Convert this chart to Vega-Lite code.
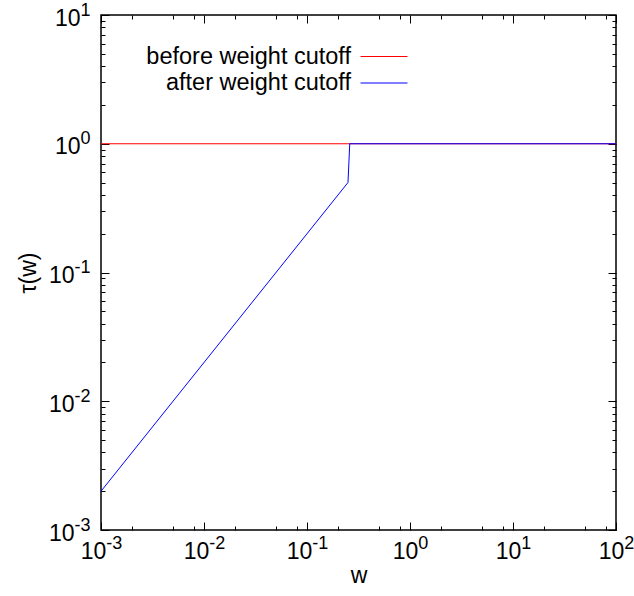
{
  "$schema": "https://vega.github.io/schema/vega-lite/v6.json",
  "width": 515,
  "height": 515,
  "autosize": {"type": "none"},
  "padding": {"left": 101, "top": 15, "right": 18, "bottom": 66},
  "background": "white",
  "config": {
    "font": "Liberation Sans",
    "view": {"stroke": "black", "strokeWidth": 1.5},
    "axis": {
      "labelFont": "Liberation Sans",
      "titleFont": "Liberation Sans",
      "labelColor": "black",
      "titleColor": "black",
      "domain": false,
      "grid": false,
      "labelFlush": false,
      "labelOverlap": false,
      "minExtent": 0,
      "zindex": 1,
      "labelFontSize": 23,
      "titleFontSize": 23,
      "titleFontWeight": "normal"
    }
  },
  "data": {
    "values": [
      {"series": "before weight cutoff", "w": 0.001, "tau": 1},
      {"series": "before weight cutoff", "w": 100, "tau": 1},
      {"series": "after weight cutoff", "w": 0.001, "tau": 0.002},
      {"series": "after weight cutoff", "w": 0.25, "tau": 0.5},
      {"series": "after weight cutoff", "w": 0.26, "tau": 1},
      {"series": "after weight cutoff", "w": 100, "tau": 1}
    ]
  },
  "layer": [
    {
      "transform": [{"filter": "datum.series === 'before weight cutoff'"}],
      "mark": {"type": "line", "strokeWidth": 1},
      "encoding": {
        "x": {
          "field": "w", "type": "quantitative",
          "scale": {"type": "log", "domain": [0.001, 100], "nice": false},
          "axis": {
            "orient": "bottom", "values": [0.001, 0.01, 0.1, 1, 10, 100], "ticks": false,
            "labelExpr": "'10'", "labelAlign": "right", "labelBaseline": "alphabetic",
            "labelPadding": 28, "title": null,
            "labelOffset": {"expr": "datum.value < 1 ? 4.8 : 7.8"}
          }
        },
        "y": {
          "field": "tau", "type": "quantitative",
          "scale": {"type": "log", "domain": [0.001, 10], "nice": false},
          "axis": {
            "orient": "left", "values": [0.001, 0.01, 0.1, 1, 10], "ticks": false,
            "labelExpr": "'10'", "labelAlign": "right", "labelBaseline": "alphabetic",
            "labelPadding": {"expr": "datum.value < 1 ? 27 : 21"}, "labelOffset": 10, "title": null
          }
        },
        "color": {
          "field": "series", "type": "nominal",
          "scale": {"domain": ["before weight cutoff", "after weight cutoff"], "range": ["#ff0000", "#0000ff"]},
          "legend": {
            "orient": "none", "legendX": 269.5, "legendY": 28, "title": null,
            "symbolType": "M-1.8077,0L1.8077,0", "symbolSize": 676, "symbolStrokeWidth": 1,
            "labelFont": "Liberation Sans", "labelFontSize": 23.5, "labelColor": "black",
            "labelAlign": "right", "labelOffset": -46.5, "labelLimit": 500,
            "rowPadding": 1.5, "padding": 0
          }
        }
      }
    },
    {
      "transform": [{"filter": "datum.series === 'after weight cutoff'"}],
      "mark": {"type": "line", "strokeWidth": 1},
      "encoding": {
        "x": {
          "field": "w", "type": "quantitative",
          "axis": {
            "orient": "bottom", "values": [0.001, 0.01, 0.1, 1, 10, 100], "ticks": false,
            "labelExpr": "'' + round(log(datum.value) / LN10)", "labelFontSize": 18,
            "labelAlign": "left", "labelBaseline": "alphabetic", "labelPadding": 18, "title": null,
            "labelOffset": {"expr": "datum.value < 1 ? 4.8 : 7.8"}
          }
        },
        "y": {
          "field": "tau", "type": "quantitative",
          "axis": {
            "orient": "left", "values": [0.001, 0.01, 0.1, 1, 10], "ticks": false,
            "labelExpr": "'' + round(log(datum.value) / LN10)", "labelFontSize": 18,
            "labelAlign": "right", "labelBaseline": "alphabetic", "labelPadding": 11, "title": null
          }
        },
        "color": {"field": "series", "type": "nominal"}
      }
    },
    {
      "mark": {"type": "line", "opacity": 0},
      "encoding": {
        "x": {
          "field": "w", "type": "quantitative",
          "axis": {"orient": "bottom", "values": [0.001, 0.01, 0.1, 1, 10, 100], "labels": false, "ticks": true, "tickSize": -8, "tickColor": "black", "tickWidth": 1, "title": null}
        },
        "y": {
          "field": "tau", "type": "quantitative",
          "axis": {"orient": "left", "values": [0.001, 0.01, 0.1, 1, 10], "labels": false, "ticks": true, "tickSize": -8, "tickColor": "black", "tickWidth": 1, "title": null}
        }
      }
    },
    {
      "mark": {"type": "line", "opacity": 0},
      "encoding": {
        "x": {
          "field": "w", "type": "quantitative",
          "axis": {
            "orient": "bottom",
            "values": [0.002, 0.005, 0.008, 0.02, 0.05, 0.08, 0.2, 0.5, 0.8, 2, 5, 8, 20, 50, 80],
            "labels": false, "ticks": true, "tickSize": -4, "tickColor": "black", "tickWidth": 1, "title": "w", "titlePadding": 34
          }
        },
        "y": {
          "field": "tau", "type": "quantitative",
          "axis": {
            "orient": "left",
            "values": [0.002, 0.003, 0.004, 0.005, 0.006, 0.007, 0.008, 0.009, 0.02, 0.03, 0.04, 0.05, 0.06, 0.07, 0.08, 0.09, 0.2, 0.3, 0.4, 0.5, 0.6, 0.7, 0.8, 0.9, 2, 3, 4, 5, 6, 7, 8, 9],
            "labels": false, "ticks": true, "tickSize": -4, "tickColor": "black", "tickWidth": 1, "title": "τ(w)", "titlePadding": 60
          }
        }
      }
    },
    {
      "mark": {"type": "line", "opacity": 0},
      "encoding": {
        "x": {
          "field": "w", "type": "quantitative",
          "axis": {"orient": "top", "values": [0.001, 0.01, 0.1, 1, 10, 100], "labels": false, "ticks": true, "tickSize": -8, "tickColor": "black", "tickWidth": 1, "title": null}
        },
        "y": {
          "field": "tau", "type": "quantitative",
          "axis": {"orient": "right", "values": [0.001, 0.01, 0.1, 1, 10], "labels": false, "ticks": true, "tickSize": -8, "tickColor": "black", "tickWidth": 1, "title": null}
        }
      }
    },
    {
      "mark": {"type": "line", "opacity": 0},
      "encoding": {
        "x": {
          "field": "w", "type": "quantitative",
          "axis": {
            "orient": "top",
            "values": [0.002, 0.005, 0.008, 0.02, 0.05, 0.08, 0.2, 0.5, 0.8, 2, 5, 8, 20, 50, 80],
            "labels": false, "ticks": true, "tickSize": -4, "tickColor": "black", "tickWidth": 1, "title": null
          }
        },
        "y": {
          "field": "tau", "type": "quantitative",
          "axis": {
            "orient": "right",
            "values": [0.002, 0.003, 0.004, 0.005, 0.006, 0.007, 0.008, 0.009, 0.02, 0.03, 0.04, 0.05, 0.06, 0.07, 0.08, 0.09, 0.2, 0.3, 0.4, 0.5, 0.6, 0.7, 0.8, 0.9, 2, 3, 4, 5, 6, 7, 8, 9],
            "labels": false, "ticks": true, "tickSize": -4, "tickColor": "black", "tickWidth": 1, "title": null
          }
        }
      }
    }
  ],
  "resolve": {"axis": {"x": "independent", "y": "independent"}}
}
